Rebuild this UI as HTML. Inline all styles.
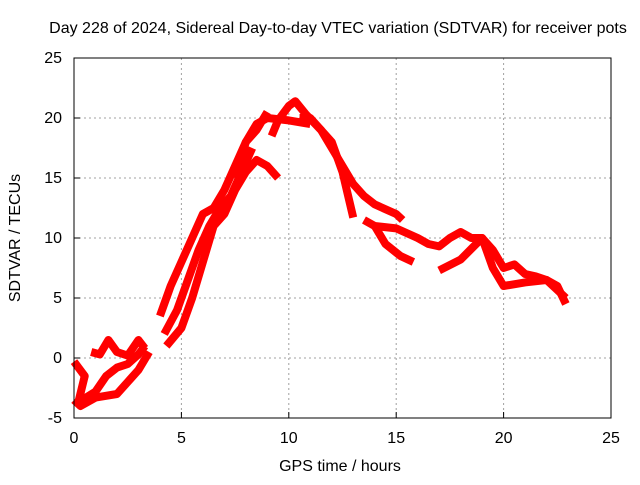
<!DOCTYPE html>
<html><head><meta charset="utf-8"><style>
body{margin:0;background:#fff}
text{font-family:"Liberation Sans",sans-serif;font-size:16px;fill:#000}
</style></head><body>
<svg id="chart" width="640" height="480" viewBox="0 0 640 480" xmlns="http://www.w3.org/2000/svg">
<rect width="640" height="480" fill="#fff"/>
<text x="338" y="33" text-anchor="middle">Day 228 of 2024, Sidereal Day-to-day VTEC variation (SDTVAR) for receiver pots</text>
<g id="grid"></g>
<g id="series"></g>
<rect x="74" y="58" width="537" height="360" fill="none" stroke="#000" stroke-width="1"/>
<g id="ticks"></g>
<text x="340" y="471" text-anchor="middle">GPS time / hours</text>
<text transform="translate(20,238) rotate(-90)" text-anchor="middle">SDTVAR / TECUs</text>
</svg>
<script>
const xTicks=[0,5,10,15,20,25];
const yTicks=[-5,0,5,10,15,20,25];
const track1X=[0,0.3,1,2,2.5,3,3.5];
const track1Y=[-3.5,-4,-3.3,-3,-2,-1,0.5];
const track2X=[0,0.5,0.2,1,1.5,2,2.5,3,3.3];
const track2Y=[-0.3,-1.5,-3.7,-2.8,-1.5,-0.8,-0.5,0.3,1];
const track3X=[0.8,1.2,1.6,2,2.5,3,3.3];
const track3Y=[0.5,0.3,1.5,0.5,0.2,1.5,0.8];
const track4X=[4,4.5,5,5.5,6,6.5,7,7.5,8,8.5,9];
const track4Y=[3.5,6,8,10,12,12.5,14,16,18,19,20.5];
const track5X=[4.3,5,5.5,6,6.5,7,7.5,8,8.5,9,9.5];
const track5Y=[1,2.5,5,8,11,12,14,15.5,16.5,16,15];
const track6X=[7.5,8,8.5,9,10,11];
const track6Y=[15,18,19.5,20,19.8,19.5];
const track7X=[9.2,9.5,10,10.3,10.8,11.5,12,12.5,13];
const track7Y=[18.5,19.8,21,21.4,20.3,19,18,15.5,11.7];
const track8X=[10.5,11,11.5,12,12.5,13,13.5,14,15,15.3];
const track8Y=[20,20,19,17.5,16,14.5,13.5,12.8,12,11.5];
const track9X=[13.5,14,15,16,16.5,17,17.5,18,18.5,19,19.5,20,20.5,21,21.5,22,22.5,22.9];
const track9Y=[11.5,11,10.8,10,9.5,9.3,10,10.5,10,10,9,7.5,7.8,7,6.8,6.5,6,4.5];
const track10X=[14,14.5,15.2,15.8];
const track10Y=[11,9.5,8.5,8];
const track11X=[17,18,19,19.5,20,21,22,22.9];
const track11Y=[7.3,8.2,10,7.5,6,6.3,6.5,5];
const track12X=[4.2,4.8,5.3,5.8,6.3,6.8,7.3,7.8,8.3];
const track12Y=[2,4,6.5,9,11,12.5,13.5,15.5,17.5];
const tracks=[[track1X,track1Y],[track2X,track2Y],[track3X,track3Y],[track4X,track4Y],[track5X,track5Y],[track6X,track6Y],[track7X,track7Y],[track8X,track8Y],[track9X,track9Y],[track10X,track10Y],[track11X,track11Y],[track12X,track12Y]];
const NS="http://www.w3.org/2000/svg";
const sx=v=>74+v*537/25;
const sy=v=>418-(v+5)*12;
const grid=document.getElementById('grid'),ticks=document.getElementById('ticks'),series=document.getElementById('series');
xTicks.forEach(t=>{
  const x=sx(t);
  if(t>0&&t<25){const l=document.createElementNS(NS,'line');
  
  
  l.setAttribute('x1',x);l.setAttribute('x2',x);l.setAttribute('y1',58);l.setAttribute('y2',418);l.setAttribute('stroke','#a0a0a0');l.setAttribute('stroke-dasharray','2,3');grid.appendChild(l);}
  const k=document.createElementNS(NS,'line');
  
  
  k.setAttribute('x1',x);k.setAttribute('x2',x);k.setAttribute('y1',418);k.setAttribute('y2',412);k.setAttribute('stroke','#000');ticks.appendChild(k);
  const tx=document.createElementNS(NS,'text');
  
  
  tx.setAttribute('x',x);tx.setAttribute('y',443);tx.setAttribute('text-anchor','middle');tx.textContent=t;ticks.appendChild(tx);
});
yTicks.forEach(t=>{
  const y=sy(t);
  if(t>-5&&t<25){const l=document.createElementNS(NS,'line');
  
  
  l.setAttribute('x1',74);l.setAttribute('x2',611);l.setAttribute('y1',y);l.setAttribute('y2',y);l.setAttribute('stroke','#a0a0a0');l.setAttribute('stroke-dasharray','2,3');grid.appendChild(l);}
  const k=document.createElementNS(NS,'line');
  
  
  k.setAttribute('x1',74);k.setAttribute('x2',80);k.setAttribute('y1',y);k.setAttribute('y2',y);k.setAttribute('stroke','#000');ticks.appendChild(k);
  const tx=document.createElementNS(NS,'text');
  
  
  tx.setAttribute('x',62);tx.setAttribute('y',y+5);tx.setAttribute('text-anchor','end');tx.textContent=t;ticks.appendChild(tx);
});
tracks.forEach(([xs,ys])=>{
  const p=document.createElementNS(NS,'polyline');
  
  
  p.setAttribute('points',xs.map((x,i)=>sx(x)+','+sy(ys[i])).join(' '));
  p.setAttribute('fill','none');p.setAttribute('stroke','#ff0000');p.setAttribute('stroke-width','8');p.setAttribute('stroke-linejoin','round');
  series.appendChild(p);
});
</script>
</body></html>
